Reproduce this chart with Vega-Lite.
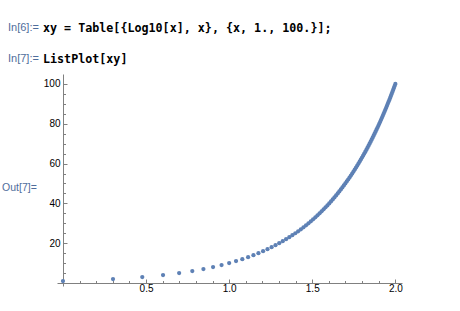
{
  "$schema": "https://vega.github.io/schema/vega-lite/v6.json",
  "padding": {"left": 1, "top": 22, "right": 5, "bottom": 5},
  "spacing": 8,
  "background": "white",
  "config": {"view": {"stroke": null}, "font": "Liberation Sans"},
  "vconcat": [
    {
      "width": 40,
      "height": 31,
      "data": {"values": [
        {"line": 1, "role": "label", "text": "In[6]:="},
        {"line": 1, "role": "code", "text": "xy = Table[{Log10[x], x}, {x, 1., 100.}];"},
        {"line": 2, "role": "label", "text": "In[7]:="},
        {"line": 2, "role": "code", "text": "ListPlot[xy]"}
      ]},
      "encoding": {
        "x": {"field": "role", "type": "nominal", "scale": {"type": "point", "domain": ["label", "code"], "range": [-49, -14], "padding": 0}, "axis": null},
        "y": {"field": "line", "type": "ordinal", "scale": {"type": "point", "padding": 0}, "axis": null}
      },
      "layer": [
        {
          "transform": [{"filter": "datum.role == 'label'"}],
          "mark": {"type": "text", "align": "left", "baseline": "middle", "font": "Liberation Sans", "fontSize": 11, "color": "#4f6d9c"},
          "encoding": {"text": {"field": "text"}}
        },
        {
          "transform": [{"filter": "datum.role == 'code'"}],
          "mark": {"type": "text", "align": "left", "baseline": "middle", "font": "DejaVu Sans Mono", "fontWeight": "bold", "fontSize": 11.7, "color": "#000000"},
          "encoding": {"text": {"field": "text"}}
        }
      ]
    },
    {
      "width": 345,
      "height": 212,
      "data": {"values": [
        {"lx": 0, "y": 1}, {"lx": 0.30103, "y": 2}, {"lx": 0.47712, "y": 3}, {"lx": 0.60206, "y": 4}, {"lx": 0.69897, "y": 5},
        {"lx": 0.77815, "y": 6}, {"lx": 0.8451, "y": 7}, {"lx": 0.90309, "y": 8}, {"lx": 0.95424, "y": 9}, {"lx": 1, "y": 10},
        {"lx": 1.04139, "y": 11}, {"lx": 1.07918, "y": 12}, {"lx": 1.11394, "y": 13}, {"lx": 1.14613, "y": 14}, {"lx": 1.17609, "y": 15},
        {"lx": 1.20412, "y": 16}, {"lx": 1.23045, "y": 17}, {"lx": 1.25527, "y": 18}, {"lx": 1.27875, "y": 19}, {"lx": 1.30103, "y": 20},
        {"lx": 1.32222, "y": 21}, {"lx": 1.34242, "y": 22}, {"lx": 1.36173, "y": 23}, {"lx": 1.38021, "y": 24}, {"lx": 1.39794, "y": 25},
        {"lx": 1.41497, "y": 26}, {"lx": 1.43136, "y": 27}, {"lx": 1.44716, "y": 28}, {"lx": 1.4624, "y": 29}, {"lx": 1.47712, "y": 30},
        {"lx": 1.49136, "y": 31}, {"lx": 1.50515, "y": 32}, {"lx": 1.51851, "y": 33}, {"lx": 1.53148, "y": 34}, {"lx": 1.54407, "y": 35},
        {"lx": 1.5563, "y": 36}, {"lx": 1.5682, "y": 37}, {"lx": 1.57978, "y": 38}, {"lx": 1.59106, "y": 39}, {"lx": 1.60206, "y": 40},
        {"lx": 1.61278, "y": 41}, {"lx": 1.62325, "y": 42}, {"lx": 1.63347, "y": 43}, {"lx": 1.64345, "y": 44}, {"lx": 1.65321, "y": 45},
        {"lx": 1.66276, "y": 46}, {"lx": 1.6721, "y": 47}, {"lx": 1.68124, "y": 48}, {"lx": 1.6902, "y": 49}, {"lx": 1.69897, "y": 50},
        {"lx": 1.70757, "y": 51}, {"lx": 1.716, "y": 52}, {"lx": 1.72428, "y": 53}, {"lx": 1.73239, "y": 54}, {"lx": 1.74036, "y": 55},
        {"lx": 1.74819, "y": 56}, {"lx": 1.75587, "y": 57}, {"lx": 1.76343, "y": 58}, {"lx": 1.77085, "y": 59}, {"lx": 1.77815, "y": 60},
        {"lx": 1.78533, "y": 61}, {"lx": 1.79239, "y": 62}, {"lx": 1.79934, "y": 63}, {"lx": 1.80618, "y": 64}, {"lx": 1.81291, "y": 65},
        {"lx": 1.81954, "y": 66}, {"lx": 1.82607, "y": 67}, {"lx": 1.83251, "y": 68}, {"lx": 1.83885, "y": 69}, {"lx": 1.8451, "y": 70},
        {"lx": 1.85126, "y": 71}, {"lx": 1.85733, "y": 72}, {"lx": 1.86332, "y": 73}, {"lx": 1.86923, "y": 74}, {"lx": 1.87506, "y": 75},
        {"lx": 1.88081, "y": 76}, {"lx": 1.88649, "y": 77}, {"lx": 1.89209, "y": 78}, {"lx": 1.89763, "y": 79}, {"lx": 1.90309, "y": 80},
        {"lx": 1.90849, "y": 81}, {"lx": 1.91381, "y": 82}, {"lx": 1.91908, "y": 83}, {"lx": 1.92428, "y": 84}, {"lx": 1.92942, "y": 85},
        {"lx": 1.9345, "y": 86}, {"lx": 1.93952, "y": 87}, {"lx": 1.94448, "y": 88}, {"lx": 1.94939, "y": 89}, {"lx": 1.95424, "y": 90},
        {"lx": 1.95904, "y": 91}, {"lx": 1.96379, "y": 92}, {"lx": 1.96848, "y": 93}, {"lx": 1.97313, "y": 94}, {"lx": 1.97772, "y": 95},
        {"lx": 1.98227, "y": 96}, {"lx": 1.98677, "y": 97}, {"lx": 1.99123, "y": 98}, {"lx": 1.99564, "y": 99}, {"lx": 2, "y": 100}
      ]},
      "mark": {"type": "point", "filled": true, "size": 18, "color": "#5E81B5", "opacity": 1},
      "encoding": {
        "x": {
          "field": "lx", "type": "quantitative",
          "scale": {"domain": [-0.036, 2.04], "nice": false, "zero": false},
          "axis": {
            "title": null, "grid": false, "offset": -3,
            "values": [0.1, 0.2, 0.3, 0.4, 0.5, 0.6, 0.7, 0.8, 0.9, 1.0, 1.1, 1.2, 1.3, 1.4, 1.5, 1.6, 1.7, 1.8, 1.9, 2.0],
            "labelExpr": "abs(datum.value*2 - round(datum.value*2)) < 0.001 ? format(datum.value, '.1f') : ''",
            "tickSize": {"condition": {"test": "abs(datum.value*2 - round(datum.value*2)) < 0.001", "value": -4}, "value": -2.5},
            "labelPadding": 4, "labelOverlap": false, "labelFlush": false,
            "domainColor": "#808080", "tickColor": "#808080", "labelColor": "#000000",
            "labelFont": "Liberation Sans", "labelFontSize": 10
          }
        },
        "y": {
          "field": "y", "type": "quantitative",
          "scale": {"domain": [-1.5, 105], "nice": false, "zero": false},
          "axis": {
            "title": "Out[7]=", "titleAngle": 0, "titleAlign": "right", "titleBaseline": "middle",
            "titleColor": "#4f6d9c", "titleFont": "Liberation Sans", "titleFontSize": 10.5, "titleFontWeight": "normal",
            "titlePadding": 7, "titleY": 113,
            "grid": false, "offset": -6,
            "values": [5, 10, 15, 20, 25, 30, 35, 40, 45, 50, 55, 60, 65, 70, 75, 80, 85, 90, 95, 100],
            "labelExpr": "datum.value % 20 == 0 ? format(datum.value, 'd') : ''",
            "tickSize": {"condition": {"test": "datum.value % 20 == 0", "value": -4}, "value": -2.5},
            "labelPadding": 7, "labelOverlap": false, "labelFlush": false,
            "domainColor": "#808080", "tickColor": "#808080", "labelColor": "#000000",
            "labelFont": "Liberation Sans", "labelFontSize": 10
          }
        }
      }
    }
  ]
}
